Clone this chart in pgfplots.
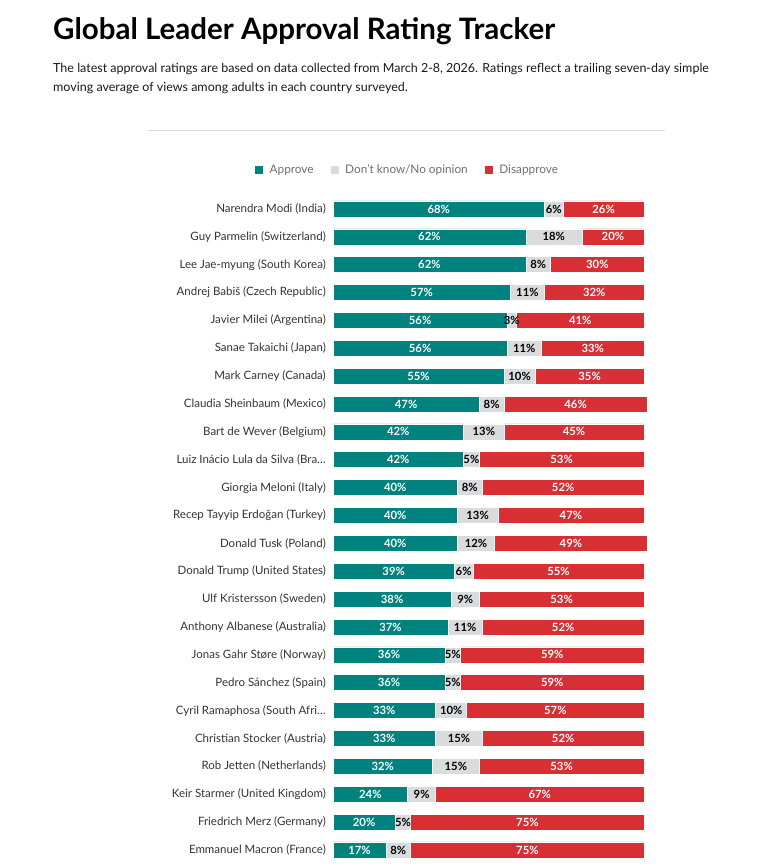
\documentclass[border=0pt]{standalone}
\usepackage{fontspec}
\setmainfont{Lato}
\usepackage{pgfplots}
\usepackage{pgfplotstable}
\pgfplotsset{compat=1.18}

\definecolor{approve}{HTML}{00827F}
\definecolor{noop}{HTML}{D9DBDC}
\definecolor{disapp}{HTML}{D82F35}
\definecolor{lbl}{HTML}{333333}
\definecolor{leg}{HTML}{6E6E6E}

% approve / don't know / disapprove, top row first
\pgfplotstableread{
y  a  n  d
0  68 6  26
1  62 18 20
2  62 8  30
3  57 11 32
4  56 3  41
5  56 11 33
6  55 10 35
7  47 8  46
8  42 13 45
9  42 5  53
10 40 8  52
11 40 13 47
12 40 12 49
13 39 6  55
14 38 9  53
15 37 11 52
16 36 5  59
17 36 5  59
18 33 10 57
19 33 15 52
20 32 15 53
21 24 9  67
22 20 5  75
23 17 8  75
}\ratings

\pgfplotsset{
  panel/.style={
    at={(333pt,-863.9pt)}, anchor=south west,
    scale only axis, width=311pt, height=668.9pt,
    xmin=0, xmax=100, ymin=-0.5, ymax=23.5, y dir=reverse,
    axis line style={draw=none}, clip=false,
  },
  pct/.style={draw=none, mark=none, only marks,
    point meta=explicit symbolic,
    nodes near coords={\pgfplotspointmeta\%},
    every node near coord/.append style={anchor=center, inner sep=0pt,
      font=\fontsize{11.3}{13}\selectfont\bfseries, text=#1}},
}

\begin{document}
\begin{tikzpicture}[x=1pt,y=1pt]
\path (0,0) rectangle (781,-866);

\node[anchor=base west, font=\fontsize{29.5}{34}\selectfont\bfseries, text=black, inner sep=0]
  at (53,-40) {Global Leader Approval Rating Tracker};
\node[anchor=base west, font=\fontsize{12.5}{15}\selectfont, text=black!90, inner sep=0]
  at (53,-73) {The latest approval ratings are based on data collected from March 2-8, 2026. Ratings reflect a trailing seven-day simple};
\node[anchor=base west, font=\fontsize{12.5}{15}\selectfont, text=black!90, inner sep=0]
  at (53,-92) {moving average of views among adults in each country surveyed.};
\draw[black!15, line width=1pt] (148,-131) -- (665,-131);

\begin{axis}[
  panel,
  xbar stacked, bar width=16pt,
  xtick=\empty, ytick=data,
  yticklabels={Narendra Modi (India), Guy Parmelin (Switzerland), Lee Jae-myung (South Korea),
    Andrej Babiš (Czech Republic), Javier Milei (Argentina), Sanae Takaichi (Japan),
    Mark Carney (Canada), Claudia Sheinbaum (Mexico), Bart de Wever (Belgium),
    Luiz Inácio Lula da Silva (Bra…, Giorgia Meloni (Italy), Recep Tayyip Erdoğan (Turkey),
    Donald Tusk (Poland), Donald Trump (United States), Ulf Kristersson (Sweden),
    Anthony Albanese (Australia), Jonas Gahr Støre (Norway), Pedro Sánchez (Spain),
    Cyril Ramaphosa (South Afri…, Christian Stocker (Austria), Rob Jetten (Netherlands),
    Keir Starmer (United Kingdom), Friedrich Merz (Germany), Emmanuel Macron (France)},
  yticklabel style={font=\fontsize{11.5}{13}\selectfont, text=lbl, anchor=east,
    inner sep=0pt, xshift=-7pt},
  major tick length=0pt, ytick style={draw=none},
  legend columns=3,
  legend style={at={(0.238,1.0375)}, anchor=center, draw=none, fill=none,
    font=\fontsize{11.8}{13}\selectfont, text=leg, inner sep=0pt,
    /tikz/every odd column/.append style={column sep=4pt},
    /tikz/every even column/.append style={column sep=14pt}},
  legend image code/.code={\fill[#1] (0pt,-4.5pt) rectangle (9pt,4.5pt);},
]
\addplot[fill=approve, draw=white, line width=0.6pt] table[x=a, y=y] {\ratings};
\addplot[fill=noop, draw=white, line width=0.6pt] table[x=n, y=y] {\ratings};
\addplot[fill=disapp, draw=white, line width=0.6pt] table[x=d, y=y] {\ratings};
\legend{Approve, Don't know/No opinion, Disapprove}
\end{axis}

% value labels, centred on each segment
\begin{axis}[panel, xtick=\empty, ytick=\empty]
\addplot[pct=white] table[x expr=\thisrow{a}/2, y=y, meta=a] {\ratings};
\addplot[pct=black] table[x expr=\thisrow{a}+\thisrow{n}/2, y=y, meta=n] {\ratings};
\addplot[pct=white] table[x expr=\thisrow{a}+\thisrow{n}+\thisrow{d}/2, y=y, meta=d] {\ratings};
\end{axis}
\end{tikzpicture}
\end{document}
